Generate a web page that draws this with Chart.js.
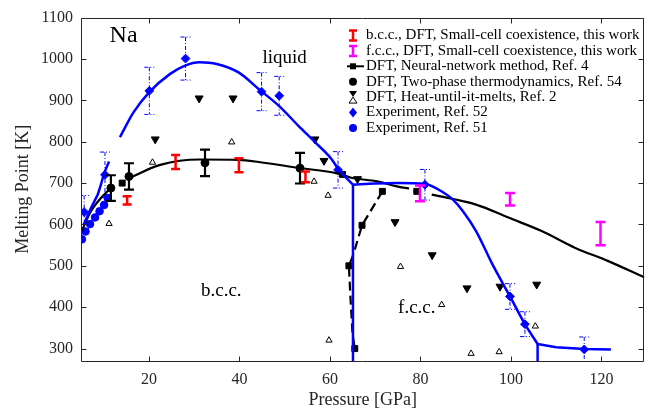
<!DOCTYPE html>
<html><head><meta charset="utf-8">
<script src="https://cdn.jsdelivr.net/npm/chart.js@4.4.1/dist/chart.umd.min.js"></script>
<style>html,body{margin:0;padding:0;background:#fff;overflow:hidden}</style>
</head><body>
<div style="width:650px;height:416px;position:relative"><canvas id="c"></canvas></div>
<script>
// ---------- data ----------
const xTicks = [20, 40, 60, 80, 100, 120];
const yTicks = [300, 400, 500, 600, 700, 800, 900, 1000, 1100];

// b.c.c., DFT, small-cell coexistence (red)
const bccP = [15.2, 25.9, 39.9, 54.6];
const bccT = [658, 751, 743, 715];
const bccE = [10, 17, 17, 13];
// f.c.c., DFT, small-cell coexistence (magenta)
const fccP = [79.9, 99.8, 119.8];
const fccT = [675, 661, 578];
const fccE = [19, 15, 28];
// DFT neural network, Ref. 4 (squares)
const nnP = [14.1, 62.8, 71.6, 79.2, 67.1, 64.2, 65.5];
const nnT = [700, 721, 680, 680, 598, 500, 300];
// Ref. 4 b.c.c. melting line (solid)
const nnLineP = [5.2, 7.2, 9.4, 11.6, 13.5, 15.6, 22.5, 31.2, 39.9, 44.3, 53.0, 61.8, 64.7, 70.5, 74.8, 77.5, 80, 82.5, 92.3, 99.6, 106.8, 114.1, 121.4, 129.5];
const nnLineT = [585, 632, 664, 688, null, 712, 744, 757, 756, 751, 737, 723, 713, 704, 692, 687, null, 672, 648, 616, 584, 544, 512, 472];
// Ref. 4 b.c.c./f.c.c. boundary (dashed)
const nnDashP = [71.6, 67.1, 65.2, 64.2, 64.5, 65.0, 65.5];
const nnDashT = [680, 598, 528, 500, 432, 336, 300];
// DFT two-phase thermodynamics, Ref. 54 (black circles)
const tpP = [11.6, 15.6, 32.4, 53.4];
const tpT = [688, 716, 749, 736];
const tpE = [31, 32, 32, 37];
// DFT heat-until-it-melts, Ref. 2
const hmUpperP = [21.4, 31.1, 38.6, 56.7, 58.7, 66.1, 74.4, 82.6, 90.3, 97.6, 105.7];
const hmUpperT = [806, 905, 905, 806, 754, 710, 606, 526, 446, 450, 455];
const hmLowerP = [11.2, 20.8, 38.3, 56.5, 59.6, 59.8, 75.6, 84.7, 91.2, 97.4, 105.4];
const hmLowerT = [602, 750, 799, 704, 670, 320, 498, 406, 288, 292, 354];
// Experiment, Ref. 52 (diamonds)
const e52P = [5.7, 10.3, 20.1, 28.1, 44.9, 48.8, 61.8, 81.0, 99.8, 103.1, 116.2];
const e52T = [630, 720, 923, 1001, 921, 911, 732, 696, 426, 359, 298];
const e52E = [40, 55, 57, 52, 46, 47, 44, 37, 31, 30, 30];
// Experiment, Ref. 51 (circles)
const e51P = [5.2, 6.0, 7.0, 8.1, 9.1, 10.1, 10.9];
const e51T = [564, 583, 601, 617, 632, 647, 664];
// Experimental phase lines (blue)
const lowBlueP = [5.6, 7.2, 8.7, 9.4, 10.1, 11.2];
const lowBlueT = [600, 640, 672, 696, 724, 752];
const liqBccP = [13.6, 16.6, 20.1, 24.7, 28.0, 31.2, 35.0, 39.9, 44.3, 48.8, 53.0, 56.7, 60.3, 61.8, 65.1];
const liqBccT = [811, 871, 920, 964, 984, 992, 988, 967, 927, 886, 839, 799, 759, 735, 696];
const liqFccP = [65.1, 70, 75, 81, 85, 87.2, 89.4, 92.3, 95.9, 99.8, 103.1, 105.9];
const liqFccT = [696, 699, 700, 698, 678, 660, 632, 584, 504, 426, 359, 311];
const fccTailP = [105.9, 110, 116.2, 122.1];
const fccTailT = [311, 303, 299, 298];
const vert1P = [65.1, 65.1];
const vert1T = [696, 270];
const vert2P = [105.9, 105.9];
const vert2T = [311, 270];

const legendLabels = [
  'b.c.c., DFT, Small-cell coexistence, this work',
  'f.c.c., DFT, Small-cell coexistence, this work',
  'DFT, Neural-network method, Ref. 4',
  'DFT, Two-phase thermodynamics, Ref. 54',
  'DFT, Heat-until-it-melts, Ref. 2',
  'Experiment, Ref. 52',
  'Experiment, Ref. 51'
];
const annotations = [
  {text: 'Na', x: 14.4, y: 1056, size: 24},
  {text: 'liquid', x: 50, y: 1003, size: 19},
  {text: 'b.c.c.', x: 36, y: 440, size: 19},
  {text: 'f.c.c.', x: 79.2, y: 399, size: 19}
];

// ---------- styling ----------
const FONT = '"Liberation Serif", "DejaVu Serif", serif';
const AX = '#262626';
const BLUE = '#0000FF';
const RED = '#FF0000';
const MAG = '#FF00FF';

function pts(P, T) { return P.map((p, i) => ({x: p, y: T[i]})); }
function lineDs(P, T, color, width, dash, smooth) {
  return {data: pts(P, T), showLine: true, borderColor: color, borderWidth: width,
    borderDash: dash || [], pointRadius: 0, spanGaps: false, fill: false,
    cubicInterpolationMode: smooth ? 'monotone' : 'default', tension: 0};
}
function markDs(P, T, style, r, fill, stroke, bw, rot) {
  return {data: pts(P, T), showLine: false, pointStyle: style, pointRadius: r,
    pointBackgroundColor: fill, pointBorderColor: stroke, pointBorderWidth: bw, pointRotation: rot || 0};
}

function drawErr(ctx, xs, ys, P, T, E, color, lw, cap, dash) {
  ctx.save();
  ctx.strokeStyle = color; ctx.lineWidth = lw; ctx.setLineDash(dash || []);
  P.forEach((p, i) => {
    const x = xs.getPixelForValue(p);
    const y1 = ys.getPixelForValue(T[i] + E[i]);
    const y2 = ys.getPixelForValue(T[i] - E[i]);
    ctx.beginPath();
    ctx.moveTo(x, y1); ctx.lineTo(x, y2);
    ctx.moveTo(x - cap, y1); ctx.lineTo(x + cap, y1);
    ctx.moveTo(x - cap, y2); ctx.lineTo(x + cap, y2);
    ctx.stroke();
  });
  ctx.restore();
}

const overlay = {
  id: 'overlay',
  beforeDatasetsDraw(chart) {
    const {ctx, chartArea: a, scales: {x, y}} = chart;
    ctx.save();
    ctx.beginPath(); ctx.rect(a.left, a.top, a.right - a.left, a.bottom - a.top); ctx.clip();
    drawErr(ctx, x, y, e52P, e52T, e52E, BLUE, 1, 5, [4, 2, 1, 2]);
    ctx.restore();
  },
  afterDatasetsDraw(chart) {
    const {ctx, chartArea: a, scales: {x, y}} = chart;
    ctx.save();
    ctx.beginPath(); ctx.rect(a.left, a.top, a.right - a.left, a.bottom - a.top); ctx.clip();
    drawErr(ctx, x, y, tpP, tpT, tpE, '#000', 2.2, 5, []);
    drawErr(ctx, x, y, bccP, bccT, bccE, RED, 2.5, 4.5, []);
    drawErr(ctx, x, y, fccP, fccT, fccE, MAG, 2.5, 5, []);
    ctx.restore();

    // axes box and inward ticks
    ctx.save();
    ctx.strokeStyle = AX; ctx.lineWidth = 1;
    const L = Math.round(a.left) + 0.5, R = Math.min(Math.round(a.right), chart.width) - 0.5;
    const Tp = Math.round(a.top) + 0.5, B = Math.round(a.bottom) + 0.5;
    ctx.beginPath();
    ctx.rect(L, Tp, R - L, B - Tp);
    const tl = 5;
    xTicks.forEach(v => {
      const px = Math.round(x.getPixelForValue(v)) + 0.5;
      ctx.moveTo(px, B); ctx.lineTo(px, B - tl);
      ctx.moveTo(px, Tp); ctx.lineTo(px, Tp + tl);
    });
    yTicks.forEach(v => {
      const py = Math.round(y.getPixelForValue(v)) + 0.5;
      ctx.moveTo(L, py); ctx.lineTo(L + tl, py);
      ctx.moveTo(R, py); ctx.lineTo(R - tl, py);
    });
    ctx.stroke();
    ctx.restore();

    // annotations
    ctx.save();
    ctx.fillStyle = '#000'; ctx.textAlign = 'center'; ctx.textBaseline = 'middle';
    annotations.forEach(t => {
      ctx.font = t.size + 'px ' + FONT;
      ctx.fillText(t.text, x.getPixelForValue(t.x), y.getPixelForValue(t.y));
    });
    ctx.restore();

    // legend
    ctx.save();
    const mx = 353, tx = 366, y0 = 35.5, dy = 15.4;
    ctx.font = '15px ' + FONT; ctx.fillStyle = '#000'; ctx.textBaseline = 'middle'; ctx.textAlign = 'left';
    legendLabels.forEach((lab, i) => {
      const yy = y0 + i * dy;
      ctx.fillText(lab, tx, yy);
      ctx.save();
      if (i === 0 || i === 1) {
        ctx.strokeStyle = i === 0 ? RED : MAG; ctx.lineWidth = 2.5;
        ctx.beginPath();
        ctx.moveTo(mx, yy - 5); ctx.lineTo(mx, yy + 5);
        ctx.moveTo(mx - 4, yy - 5); ctx.lineTo(mx + 4, yy - 5);
        ctx.moveTo(mx - 4, yy + 5); ctx.lineTo(mx + 4, yy + 5);
        ctx.stroke();
      } else if (i === 2) {
        ctx.strokeStyle = '#000'; ctx.lineWidth = 2;
        ctx.beginPath(); ctx.moveTo(mx - 6, yy); ctx.lineTo(mx + 11, yy); ctx.stroke();
        ctx.fillStyle = '#000'; ctx.fillRect(mx - 3, yy - 3, 6, 6);
      } else if (i === 3) {
        ctx.fillStyle = '#000'; ctx.beginPath(); ctx.arc(mx, yy, 4, 0, 2 * Math.PI); ctx.fill();
      } else if (i === 4) {
        ctx.fillStyle = '#000'; ctx.strokeStyle = '#000'; ctx.lineWidth = 1;
        ctx.beginPath(); ctx.moveTo(mx - 4, yy - 6); ctx.lineTo(mx + 4, yy - 6); ctx.lineTo(mx, yy); ctx.closePath(); ctx.fill();
        ctx.beginPath(); ctx.moveTo(mx - 4, yy + 6); ctx.lineTo(mx + 4, yy + 6); ctx.lineTo(mx, yy); ctx.closePath(); ctx.stroke();
      } else if (i === 5) {
        ctx.fillStyle = BLUE; ctx.beginPath();
        ctx.moveTo(mx, yy - 5); ctx.lineTo(mx + 4, yy); ctx.lineTo(mx, yy + 5); ctx.lineTo(mx - 4, yy); ctx.closePath(); ctx.fill();
      } else {
        ctx.fillStyle = BLUE; ctx.beginPath(); ctx.arc(mx, yy, 4, 0, 2 * Math.PI); ctx.fill();
      }
      ctx.restore();
    });
    ctx.restore();
  }
};

const tickFont = {family: FONT, size: 16};
new Chart(document.getElementById('c'), {
  type: 'scatter',
  data: {datasets: [
    lineDs(lowBlueP, lowBlueT, BLUE, 2.5),
    lineDs(liqBccP, liqBccT, BLUE, 2.5, null, true),
    lineDs(liqFccP, liqFccT, BLUE, 2.5, null, true),
    lineDs(fccTailP, fccTailT, BLUE, 2.5),
    lineDs(vert1P, vert1T, BLUE, 2.5),
    lineDs(vert2P, vert2T, BLUE, 2.5),
    lineDs(nnLineP, nnLineT, '#000', 2.2, null, true),
    lineDs(nnDashP, nnDashT, '#000', 2.2, [9, 5]),
    markDs(hmUpperP, hmUpperT, 'triangle', 4.6, '#000', '#000', 1, 180),
    markDs(hmLowerP, hmLowerT, 'triangle', 3.6, '#fff', '#000', 1, 0),
    markDs(nnP, nnT, 'rect', 4.2, '#000', '#000', 1),
    markDs(tpP, tpT, 'circle', 4, '#000', '#000', 1),
    markDs(e51P, e51T, 'circle', 3.8, BLUE, BLUE, 1),
    markDs(e52P, e52T, 'rectRot', 4.4, BLUE, BLUE, 1)
  ]},
  options: {
    responsive: true, maintainAspectRatio: false, animation: false,
    devicePixelRatio: 1,
    layout: {padding: {left: 0, right: 0, top: 14, bottom: 0}},
    plugins: {legend: {display: false}, tooltip: {enabled: false}},
    scales: {
      x: {
        type: 'linear', min: 5, max: 129.5,
        afterFit(s) { s.height = 55; },
        afterBuildTicks(s) { s.ticks = xTicks.map(v => ({value: v})); },
        grid: {display: false, drawTicks: false},
        border: {display: false},
        ticks: {font: tickFont, color: AX, padding: 9, autoSkip: false, maxRotation: 0, callback: v => String(v)},
        title: {display: true, text: 'Pressure [GPa]', font: {family: FONT, size: 18}, color: AX, padding: {top: 0, bottom: 5}}
      },
      y: {
        type: 'linear', min: 270, max: 1100,
        afterFit(s) { s.width = 81; },
        afterBuildTicks(s) { s.ticks = yTicks.map(v => ({value: v})); },
        grid: {display: false, drawTicks: false},
        border: {display: false},
        ticks: {font: tickFont, color: AX, padding: 8, autoSkip: false, callback: v => String(v)},
        title: {display: true, text: 'Melting Point [K]', font: {family: FONT, size: 18}, color: AX, padding: {top: 12, bottom: 0}}
      }
    }
  },
  plugins: [overlay]
});
</script>
</body></html>
